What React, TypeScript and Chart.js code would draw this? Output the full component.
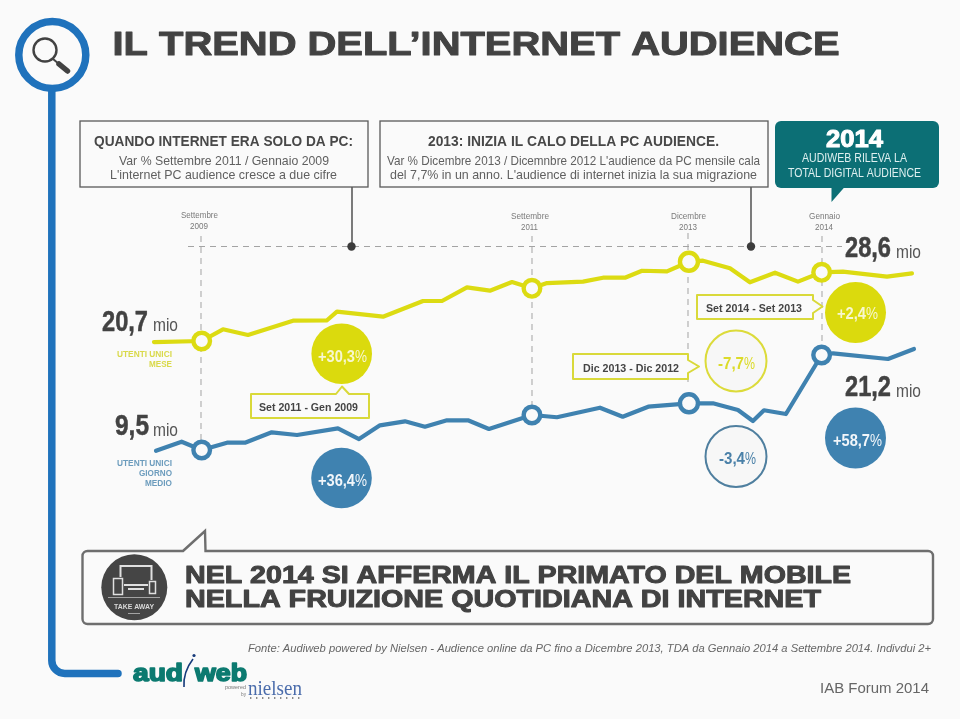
import React, { useEffect, useRef } from "react";
import { Chart, registerables } from "chart.js";

Chart.register(...registerables);

// Months counted from January 2009, as spaced on the original time axis
const monthlyMonths = [0, 4.28, 6.19, 8.43, 12.47, 15.52, 16.41, 20.54, 24.13, 25.83, 28.07, 30.13, 32.11, 33.9, 35.25, 38.48, 40.27, 42.24, 43.77, 46.01, 47.98, 49.24, 51.66, 53.45, 55.7, 57.76, 59.88, 61.79, 65.74, 67.98];
const monthlyUsers = [20.58, 20.7, 22.06, 21.4, 23.06, 23.11, 24.11, 23.53, 25.35, 25.35, 26.94, 26.55, 27.56, 26.83, 27.44, 27.6, 28.06, 28.06, 28.87, 28.8, 29.92, 30.04, 29.15, 27.53, 28.64, 27.6, 28.69, 28.76, 28.18, 28.57];
const dailyMonths = [0.18, 2.48, 4.28, 6.55, 8.16, 10.56, 12.83, 16.5, 18.39, 20.27, 22.51, 24.3, 26.28, 28.16, 30.04, 33.9, 36.14, 40, 42.04, 44.33, 47.98, 50.13, 52.38, 53.72, 54.71, 56.68, 59.88, 60.91, 65.83, 68.16];
const dailyUsers = [9.41, 10.52, 9.5, 10.4, 10.4, 11.68, 11.35, 12.17, 10.85, 12.54, 13.03, 12.37, 13.16, 13.16, 12.09, 13.81, 13.53, 14.71, 13.6, 14.83, 15.25, 15.25, 14.43, 13.07, 14.39, 13.93, 21.2, 21.41, 20.71, 21.94];
const milestoneMonths = [4.28, 33.9, 47.98, 59.88];

const YELLOW = "#dcdb12";
const BLUE = "#3f82b0";
const DARK = "#424242";
const BG = "#fafafa";

type Ctx = CanvasRenderingContext2D;

function fit(ctx: Ctx, s: string, x0: number, x1: number, base: number, font: string, color: string, thick = 0) {
  ctx.save();
  ctx.font = font;
  const w = ctx.measureText(s).width;
  ctx.translate(x0, base);
  ctx.scale((x1 - x0) / w, 1);
  ctx.fillStyle = color;
  ctx.textAlign = "left";
  ctx.textBaseline = "alphabetic";
  if (thick) {
    ctx.strokeStyle = color;
    ctx.lineWidth = thick;
    ctx.lineJoin = "round";
    ctx.strokeText(s, 0, 0);
  }
  ctx.fillText(s, 0, 0);
  ctx.restore();
}

function line(ctx: Ctx, x0: number, y0: number, x1: number, y1: number, color: string, w: number, dash: number[] = [], cap: CanvasLineCap = "butt") {
  ctx.save();
  ctx.strokeStyle = color;
  ctx.lineWidth = w;
  ctx.lineCap = cap;
  ctx.setLineDash(dash);
  ctx.beginPath();
  ctx.moveTo(x0, y0);
  ctx.lineTo(x1, y1);
  ctx.stroke();
  ctx.restore();
}

function circle(ctx: Ctx, x: number, y: number, r: number, fill: string | null, stroke: string | null = null, w = 0) {
  ctx.beginPath();
  ctx.arc(x, y, r, 0, Math.PI * 2);
  if (fill) {
    ctx.fillStyle = fill;
    ctx.fill();
  }
  if (stroke) {
    ctx.strokeStyle = stroke;
    ctx.lineWidth = w;
    ctx.stroke();
  }
}

function callout(ctx: Ctx, pts: number[][]) {
  ctx.beginPath();
  pts.forEach((p, i) => (i ? ctx.lineTo(p[0], p[1]) : ctx.moveTo(p[0], p[1])));
  ctx.closePath();
  ctx.fillStyle = BG;
  ctx.fill();
  ctx.strokeStyle = "#d9d93a";
  ctx.lineWidth = 2;
  ctx.lineJoin = "round";
  ctx.stroke();
}

function pct(ctx: Ctx, s: string, x0: number, xm: number, x1: number, base: number, color: string) {
  fit(ctx, s, x0, xm, base, "bold 17px 'Liberation Sans'", color);
  fit(ctx, "%", xm, x1, base, "16px 'Liberation Sans'", color);
}

const F = "'Liberation Sans'";

const underlay = {
  id: "underlay",
  beforeDatasetsDraw(chart: Chart) {
    const ctx = chart.ctx as Ctx;
    ctx.save();
    ctx.fillStyle = BG;
    ctx.fillRect(0, 0, 960, 719);

    // blue rail
    ctx.strokeStyle = "#1f72bc";
    ctx.lineWidth = 7.5;
    ctx.lineCap = "round";
    ctx.beginPath();
    ctx.moveTo(51.8, 88);
    ctx.lineTo(51.8, 660);
    ctx.arcTo(51.8, 673.5, 66, 673.5, 13);
    ctx.lineTo(118, 673.5);
    ctx.stroke();
    circle(ctx, 52.3, 55, 33.5, BG, "#1f72bc", 7.5);
    circle(ctx, 45, 50, 11.5, null, DARK, 2.4);
    line(ctx, 53, 59, 59, 64, DARK, 2);
    line(ctx, 59, 64, 67.5, 71, DARK, 5.5, [], "round");

    // dashed guides
    const guide = "#a3a3a3";
    const dash = [6, 5];
    line(ctx, 188, 246.5, 842, 246.5, guide, 1, dash);
    line(ctx, 201, 236, 201, 440, guide, 1, dash);
    line(ctx, 532, 236, 532, 405, guide, 1, dash);
    line(ctx, 688, 233, 688, 386, guide, 1, dash);
    line(ctx, 822, 236, 822, 345, guide, 1, dash);

    // leader lines
    line(ctx, 352, 187, 352, 246, "#444", 1.4);
    circle(ctx, 351.5, 246.5, 4.2, "#3c3c3c");
    line(ctx, 751, 187, 751, 246, "#444", 1.4);
    circle(ctx, 751, 246.5, 4.2, "#3c3c3c");
    ctx.restore();
  },
};

const overlay = {
  id: "overlay",
  afterDatasetsDraw(chart: Chart) {
    const ctx = chart.ctx as Ctx;
    ctx.save();

    fit(ctx, "IL TREND DELL’INTERNET AUDIENCE", 112.5, 839.5, 54.5, `bold 34px ${F}`, DARK, 1);

    // top boxes
    ctx.strokeStyle = "#5a5a5a";
    ctx.lineWidth = 1.3;
    ctx.fillStyle = BG;
    ctx.fillRect(80, 121, 288, 66);
    ctx.strokeRect(80, 121, 288, 66);
    ctx.fillRect(380, 121, 388, 66);
    ctx.strokeRect(380, 121, 388, 66);
    fit(ctx, "QUANDO INTERNET ERA SOLO DA PC:", 94, 353, 146, `bold 15px ${F}`, "#484848");
    fit(ctx, "Var % Settembre 2011 / Gennaio 2009", 119, 329, 164.5, `13px ${F}`, "#606060");
    fit(ctx, "L'internet PC audience cresce a due cifre", 110, 337, 178.5, `13px ${F}`, "#606060");
    fit(ctx, "2013: INIZIA IL CALO DELLA PC AUDIENCE.", 428, 719, 146, `bold 15px ${F}`, "#484848");
    fit(ctx, "Var % Dicembre 2013 / Dicemnbre 2012 L'audience da PC mensile cala", 387, 760, 164.5, `13px ${F}`, "#606060");
    fit(ctx, "del 7,7% in un anno. L'audience di internet inizia la sua migrazione", 390, 757, 178.5, `13px ${F}`, "#606060");

    // teal box
    ctx.fillStyle = "#0c6f75";
    ctx.beginPath();
    ctx.roundRect(775, 121, 164, 67, 6);
    ctx.fill();
    ctx.beginPath();
    ctx.moveTo(831.5, 186);
    ctx.lineTo(845.5, 186);
    ctx.lineTo(831.5, 202);
    ctx.closePath();
    ctx.fill();
    fit(ctx, "2014", 826, 883, 146.5, `bold 23px ${F}`, "#ffffff", 1);
    fit(ctx, "AUDIWEB RILEVA LA", 802, 907, 161.5, `12px ${F}`, "#dff0f0");
    fit(ctx, "TOTAL DIGITAL AUDIENCE", 788, 921, 177, `12px ${F}`, "#dff0f0");

    // dates
    const grey = "#7a7a7a";
    const small = `9px ${F}`;
    fit(ctx, "Settembre", 181, 218, 218, small, grey);
    fit(ctx, "2009", 190, 208, 229, small, grey);
    fit(ctx, "Settembre", 511, 549, 219, small, grey);
    fit(ctx, "2011", 521, 538, 230, small, grey);
    fit(ctx, "Dicembre", 671, 706, 219, small, grey);
    fit(ctx, "2013", 679, 697, 230, small, grey);
    fit(ctx, "Gennaio", 809, 840, 219, small, grey);
    fit(ctx, "2014", 815, 833, 230, small, grey);

    // big values
    const big = `bold 30px ${F}`;
    const mio = `19px ${F}`;
    fit(ctx, "20,7", 102, 148, 330.5, big, DARK, 0.5);
    fit(ctx, "mio", 153, 178, 331, mio, "#555");
    fit(ctx, "9,5", 115, 149, 434.5, big, DARK, 0.5);
    fit(ctx, "mio", 153, 178, 436, mio, "#555");
    fit(ctx, "28,6", 845, 891, 257, big, DARK, 0.5);
    fit(ctx, "mio", 896, 921, 258, mio, "#555");
    fit(ctx, "21,2", 845, 891, 396, big, DARK, 0.5);
    fit(ctx, "mio", 896, 921, 397, mio, "#555");

    // series captions
    const cap = `bold 9.5px ${F}`;
    fit(ctx, "UTENTI UNICI", 117, 172, 356.5, cap, "#d9d94a");
    fit(ctx, "MESE", 149, 172, 367, cap, "#d9d94a");
    fit(ctx, "UTENTI UNICI", 117, 172, 466, cap, "#6c9cbd");
    fit(ctx, "GIORNO", 139, 172, 476, cap, "#6c9cbd");
    fit(ctx, "MEDIO", 145, 172, 486, cap, "#6c9cbd");

    // percentage discs
    circle(ctx, 341.7, 353.7, 30.3, "#dbda0d");
    pct(ctx, "+30,3", 318, 355, 367, 362, "#f7f7d0");
    circle(ctx, 341.5, 478, 30.3, BLUE);
    pct(ctx, "+36,4", 318, 355, 367, 486, "#f2f6fa");
    circle(ctx, 855.5, 312.5, 30.5, "#dbda0d");
    pct(ctx, "+2,4", 837, 866, 878, 318.5, "#f7f7d0");
    circle(ctx, 736, 361, 30.5, "#f7f7f7", "#dcdb3a", 2);
    pct(ctx, "-7,7", 718, 744, 755, 369, "#dcdb2a");
    circle(ctx, 736, 456.5, 30.5, "#f7f7f7", "#4f7f9f", 2);
    pct(ctx, "-3,4", 719, 745, 756, 464, "#4a80a8");
    circle(ctx, 855.5, 438, 30.5, BLUE);
    pct(ctx, "+58,7", 833, 870, 882, 446, "#f2f6fa");

    // callouts
    callout(ctx, [[251, 394], [336, 394], [342, 386.5], [349, 394], [369, 394], [369, 418], [251, 418]]);
    fit(ctx, "Set 2011 - Gen 2009", 259, 358, 410.5, `bold 11.5px ${F}`, "#444");
    callout(ctx, [[697, 295], [813, 295], [813, 300], [822.5, 306.5], [813, 313], [813, 319], [697, 319]]);
    fit(ctx, "Set 2014 - Set 2013", 706, 802, 311.5, `bold 11.5px ${F}`, "#444");
    callout(ctx, [[573, 354], [688, 354], [688, 360], [699, 366.5], [688, 373], [688, 379], [573, 379]]);
    fit(ctx, "Dic 2013 - Dic 2012", 583, 679, 371.5, `bold 11.5px ${F}`, "#444");

    // take-away panel
    ctx.strokeStyle = "#6e6e6e";
    ctx.lineWidth = 2.4;
    ctx.lineJoin = "miter";
    ctx.beginPath();
    ctx.moveTo(183, 551);
    ctx.lineTo(205, 531);
    ctx.lineTo(205.5, 551);
    ctx.lineTo(928, 551);
    ctx.arcTo(933, 551, 933, 556, 5);
    ctx.lineTo(933, 619);
    ctx.arcTo(933, 624, 928, 624, 5);
    ctx.lineTo(87, 624);
    ctx.arcTo(82.5, 624, 82.5, 619, 5);
    ctx.lineTo(82.5, 556);
    ctx.arcTo(82.5, 551, 87, 551, 5);
    ctx.closePath();
    ctx.stroke();

    circle(ctx, 134.3, 587.3, 33, "#454545");
    ctx.strokeStyle = "#e0e0e0";
    ctx.lineWidth = 2;
    ctx.strokeRect(120.5, 566, 31, 19);
    line(ctx, 128, 589, 144, 589, "#e0e0e0", 2);
    ctx.fillStyle = "#454545";
    ctx.fillRect(112, 577, 12, 19);
    ctx.fillRect(148, 580, 9, 15);
    ctx.lineWidth = 1.5;
    ctx.strokeRect(113.5, 578.5, 9, 16);
    ctx.strokeRect(149.5, 581.5, 6, 12);
    line(ctx, 108, 597.5, 160, 597.5, "#bbbbbb", 0.8);
    fit(ctx, "TAKE AWAY", 114, 154, 609, `bold 7px ${F}`, "#d8d8d8");
    line(ctx, 128, 613.5, 140, 613.5, "#bbbbbb", 0.8);

    fit(ctx, "NEL 2014 SI AFFERMA IL PRIMATO DEL MOBILE", 185, 851, 582.5, `bold 24px ${F}`, DARK, 1);
    fit(ctx, "NELLA FRUIZIONE QUOTIDIANA DI INTERNET", 185, 821, 606.5, `bold 24px ${F}`, DARK, 1);

    // footer
    fit(ctx, "Fonte: Audiweb powered by Nielsen - Audience online da PC fino a Dicembre 2013, TDA da Gennaio 2014 a Settembre 2014. Indivdui 2+", 248, 931, 651.5, `italic 11.5px ${F}`, "#666");
    fit(ctx, "IAB Forum 2014", 820, 929, 692.5, `15.5px ${F}`, "#666");

    // logo
    fit(ctx, "aud", 133, 183, 681, `bold 24px ${F}`, "#0c7a70", 1.6);
    fit(ctx, "web", 195, 247, 681, `bold 24px ${F}`, "#0c7a70", 1.6);
    ctx.strokeStyle = "#163a7a";
    ctx.lineWidth = 1.6;
    ctx.beginPath();
    ctx.moveTo(193, 659);
    ctx.quadraticCurveTo(183, 672, 184, 687);
    ctx.stroke();
    circle(ctx, 194, 655.5, 1.6, "#163a7a");
    fit(ctx, "nielsen", 248, 302, 695, `22px 'Liberation Serif'`, "#4a6cab");
    fit(ctx, "powered", 225, 246, 689, `5px ${F}`, "#777");
    fit(ctx, "by", 241, 246, 696, `5px ${F}`, "#777");
    line(ctx, 250, 698, 302, 698, "#666", 1.4, [1.4, 4.6]);

    ctx.restore();
  },
};

export default function App() {
  const ref = useRef<HTMLCanvasElement>(null);
  useEffect(() => {
    document.body.style.margin = "0";
    document.body.style.background = BG;
    const isMilestone = (c: any) => milestoneMonths.includes(c.raw?.x);
    const big = (c: any) => c.raw?.x === 47.98;
    const chart = new Chart(ref.current!, {
      type: "line",
      data: {
        datasets: [
          {
            label: "Utenti unici mese",
            data: monthlyMonths.map((x, i) => ({ x, y: monthlyUsers[i] })),
            yAxisID: "yMonth",
            borderColor: YELLOW,
            borderWidth: 4.2,
            borderCapStyle: "round",
            borderJoinStyle: "round",
            tension: 0,
            pointRadius: (c: any) => (isMilestone(c) ? (big(c) ? 9 : 8.3) : 0),
            pointBorderWidth: 4.4,
            pointBackgroundColor: BG,
            pointBorderColor: YELLOW,
          },
          {
            label: "Utenti unici giorno medio",
            data: dailyMonths.map((x, i) => ({ x, y: dailyUsers[i] })),
            yAxisID: "yDay",
            borderColor: BLUE,
            borderWidth: 4.2,
            borderCapStyle: "round",
            borderJoinStyle: "round",
            tension: 0,
            pointRadius: (c: any) => (isMilestone(c) ? (big(c) ? 9 : 8.3) : 0),
            pointBorderWidth: 4.4,
            pointBackgroundColor: BG,
            pointBorderColor: BLUE,
          },
        ],
      },
      options: {
        animation: false,
        responsive: false,
        devicePixelRatio: 1,
        layout: { padding: 0 },
        plugins: { legend: { display: false }, tooltip: { enabled: false } },
        scales: {
          x: { type: "linear", display: false, min: -13.81, max: 72.29 },
          yMonth: { display: false, min: -23.25, max: 60.35 },
          yDay: { display: false, min: -23.63, max: 64.92 },
        },
      },
      plugins: [underlay, overlay],
    } as any);
    return () => chart.destroy();
  }, []);
  return (
    <canvas
      ref={ref}
      width={960}
      height={719}
      style={{ position: "absolute", left: 0, top: 0, width: 960, height: 719 }}
    />
  );
}
